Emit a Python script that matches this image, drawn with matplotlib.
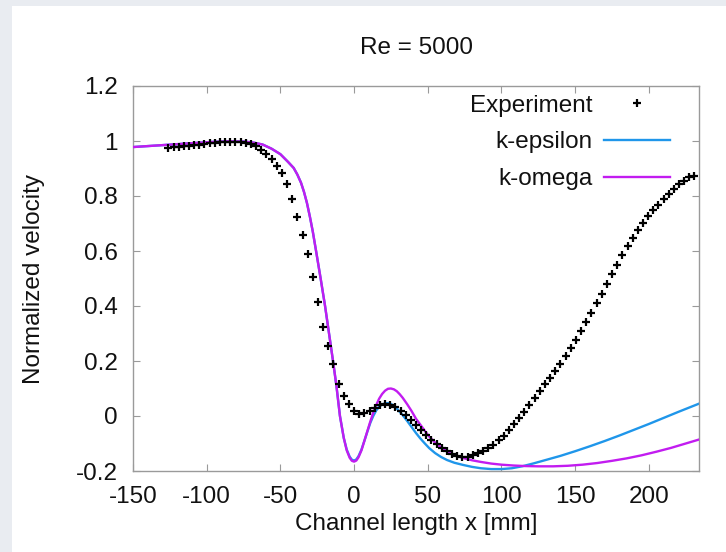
import numpy as np
import matplotlib
matplotlib.use("Agg")
import matplotlib.pyplot as plt
from matplotlib.patches import Rectangle

plt.rcParams["font.family"] = ["Liberation Sans", "DejaVu Sans"]
plt.rcParams["axes.unicode_minus"] = False

# measured velocity profile (PIV), normalised
exp_x = [-126, -122.5, -119, -115.5, -112, -108.5, -105, -101.5, -98, -94.5,
         -91, -87.5, -84, -80.5, -77, -73.5, -70, -66.5, -63, -59.5,
         -56, -52.5, -49, -45.5, -42, -38.5, -35, -31.5, -28, -24.5,
         -21, -17.5, -14, -10.5, -7, -3.5, 0, 3.5, 7, 10.5,
         14, 17.5, 21, 24.5, 28, 31.5, 35, 38.5, 42, 45.5,
         49, 52.5, 56, 59.5, 63, 66.5, 70, 73.5, 77, 80.5,
         84, 87.5, 91, 94.5, 98, 101.5, 105, 108.5, 112, 115.5,
         119, 122.5, 126, 129.5, 133, 136.5, 140, 143.5, 147, 150.5,
         154, 157.5, 161, 164.5, 168, 171.5, 175, 178.5, 182, 185.5,
         189, 192.5, 196, 199.5, 203, 206.5, 210, 213.5, 217, 220.5,
         224, 227.5, 230.5]
exp_u = [0.975, 0.977, 0.979, 0.981, 0.983, 0.985, 0.987, 0.989, 0.991, 0.993,
         0.995, 0.997, 0.998, 0.998, 0.997, 0.993, 0.988, 0.981, 0.968, 0.952,
         0.935, 0.908, 0.882, 0.845, 0.790, 0.725, 0.660, 0.590, 0.505, 0.415,
         0.325, 0.255, 0.190, 0.115, 0.072, 0.042, 0.018, 0.008, 0.012, 0.020,
         0.030, 0.039, 0.043, 0.040, 0.032, 0.020, 0.004, -0.013, -0.032, -0.050,
         -0.069, -0.087, -0.103, -0.117, -0.129, -0.138, -0.145, -0.149, -0.148, -0.142,
         -0.135, -0.126, -0.116, -0.104, -0.089, -0.072, -0.052, -0.030, -0.008, 0.015,
         0.040, 0.065, 0.091, 0.115, 0.138, 0.163, 0.190, 0.218, 0.248, 0.278,
         0.310, 0.343, 0.376, 0.410, 0.445, 0.480, 0.515, 0.550, 0.585, 0.617,
         0.646, 0.675, 0.702, 0.726, 0.748, 0.769, 0.789, 0.807, 0.825, 0.842,
         0.856, 0.868, 0.872]

# CFD results, k-epsilon model
ke_x = [-150, -130, -110, -95, -85, -75, -68, -62, -56, -50,
        -45, -41, -38.5, -36, -34, -32, -30, -28, -25.8, -22.7,
        -19.7, -17, -14.3, -12, -9.6, -7, -5, -3, -1.5, 0,
        1.5, 3, 5, 7, 9, 11, 13, 15, 17, 19,
        21, 23, 25, 27, 29, 31, 33, 36, 39, 42,
        45, 48, 51, 55, 59, 63, 68, 74, 80, 86,
        93, 100, 107, 114, 122, 130, 140, 150, 160, 170,
        180, 190, 200, 210, 220, 235]
ke_u = [0.978, 0.985, 0.992, 0.997, 0.999, 0.998, 0.994, 0.987, 0.972, 0.952,
        0.925, 0.902, 0.878, 0.848, 0.815, 0.775, 0.725, 0.670, 0.600, 0.500,
        0.400, 0.300, 0.200, 0.110, 0.000, -0.080, -0.122, -0.148, -0.159, -0.162,
        -0.158, -0.146, -0.122, -0.090, -0.057, -0.025, 0.000, 0.020, 0.034, 0.042,
        0.046, 0.047, 0.044, 0.037, 0.027, 0.015, 0.003, -0.018, -0.040, -0.062,
        -0.082, -0.100, -0.117, -0.135, -0.149, -0.160, -0.170, -0.178, -0.185, -0.190,
        -0.193, -0.193, -0.190, -0.183, -0.172, -0.160, -0.145, -0.128, -0.110, -0.091,
        -0.071, -0.050, -0.029, -0.007, 0.015, 0.047]

# CFD results, k-omega model
kw_x = [-150, -130, -110, -95, -85, -75, -68, -62, -56, -50,
        -45, -41, -38.5, -36, -34, -32, -30, -28, -25.8, -22.7,
        -19.7, -17, -14.3, -12, -9.6, -7, -5, -3, -1.5, 0,
        1.5, 3, 5, 7, 9, 11, 13, 15, 17, 19,
        21, 23, 25, 27, 29, 31, 33, 36, 39, 42,
        45, 48, 51, 55, 59, 63, 68, 74, 80, 86,
        93, 100, 108, 116, 125, 135, 145, 155, 165, 175,
        185, 195, 205, 215, 225, 235]
kw_u = [0.978, 0.985, 0.992, 0.997, 0.999, 0.998, 0.994, 0.987, 0.972, 0.952,
        0.925, 0.902, 0.878, 0.848, 0.815, 0.775, 0.725, 0.670, 0.600, 0.500,
        0.400, 0.300, 0.200, 0.110, 0.000, -0.080, -0.125, -0.152, -0.163, -0.166,
        -0.162, -0.150, -0.125, -0.090, -0.055, -0.020, 0.012, 0.040, 0.063, 0.080,
        0.092, 0.099, 0.100, 0.097, 0.090, 0.079, 0.066, 0.043, 0.018, -0.010,
        -0.032, -0.054, -0.075, -0.097, -0.114, -0.128, -0.142, -0.153, -0.161, -0.167,
        -0.173, -0.177, -0.180, -0.182, -0.183, -0.183, -0.181, -0.177, -0.171, -0.163,
        -0.154, -0.143, -0.130, -0.116, -0.100, -0.084]

x_ticks = [-150, -100, -50, 0, 50, 100, 150, 200]
y_ticks = [-0.2, 0, 0.2, 0.4, 0.6, 0.8, 1, 1.2]
y_ticklabels = ["-0.2", "0", "0.2", "0.4", "0.6", "0.8", "1", "1.2"]

W, H = 726, 552
fig = plt.figure(figsize=(W / 100, H / 100), dpi=100)
fig.patch.set_facecolor("#e9ecf1")
# white page behind the plot, leaving a thin grey border top and left
fig.patches.append(Rectangle((12 / W, 0), 1 - 12 / W, 1 - 6 / H,
                             transform=fig.transFigure, facecolor="white",
                             edgecolor="none", zorder=-10))

ax = fig.add_axes([133 / W, 1 - 471 / H, 566 / W, 385 / H])
ax.set_facecolor("white")

ax.plot(ke_x, ke_u, color="#1f96ea", lw=1.7, label="k-epsilon", zorder=2)
ax.plot(kw_x, kw_u, color="#c21cf0", lw=1.7, label="k-omega", zorder=3)
ax.plot(exp_x, exp_u, linestyle="none", marker="+", ms=6, mew=1.6,
        color="black", label="Experiment", zorder=4)

ax.set_xlim(-150, 234)
ax.set_ylim(-0.2, 1.2)
ax.set_xticks(x_ticks)
ax.set_yticks(y_ticks)
ax.set_yticklabels(y_ticklabels)

fs = 17.5
ax.tick_params(direction="in", length=5, width=0.8, color="#9a9a9a",
               top=True, right=True, labelsize=fs, pad=11, labelcolor="#111111")
for sp in ax.spines.values():
    sp.set_color("#9a9a9a")
    sp.set_linewidth(1.0)

ax.set_title("Re = 5000", fontsize=fs, pad=23, color="#111111")
ax.set_xlabel("Channel length x [mm]", fontsize=fs, color="#111111")
ax.set_ylabel("Normalized velocity", fontsize=fs, color="#111111")
ax.xaxis.set_label_coords(0.5, -0.11)
ax.yaxis.set_label_coords(-0.155, 0.5)

handles, labels = ax.get_legend_handles_labels()
order = [2, 0, 1]
ax.legend([handles[i] for i in order], [labels[i] for i in order],
          loc="upper right", bbox_to_anchor=(0.9488, 0.977), borderaxespad=0,
          borderpad=0, frameon=False, markerfirst=False, numpoints=1,
          handlelength=2.7, handletextpad=0.5, labelspacing=0.6,
          fontsize=fs, labelcolor="#111111")

fig.savefig("out.png", dpi=100, facecolor=fig.get_facecolor())
